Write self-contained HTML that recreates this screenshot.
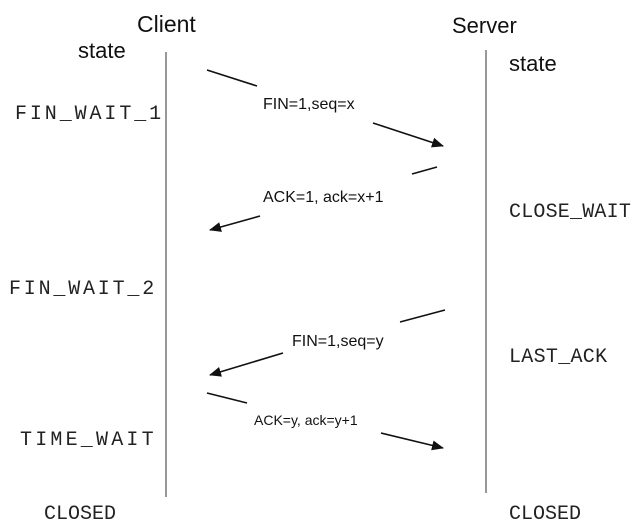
<!DOCTYPE html>
<html><head><meta charset="utf-8"><style>
html,body{margin:0;padding:0;background:#fff;}
svg{display:block;}
.s{font-family:"Liberation Sans",sans-serif;fill:#111;}
.m{font-family:"Liberation Mono",monospace;fill:#222;font-size:20px;}
</style></head><body>
<svg width="640" height="532" viewBox="0 0 640 532" xmlns="http://www.w3.org/2000/svg">
<defs><marker id="a" markerWidth="12" markerHeight="10" refX="11" refY="5" orient="auto" markerUnits="userSpaceOnUse"><path d="M0,0 L12,5 L0,10 Z" fill="#111"/></marker></defs>
<text class="s" x="137" y="32" font-size="23">Client</text>
<text class="s" x="452" y="33" font-size="22">Server</text>
<text class="s" x="78" y="58" font-size="22">state</text>
<text class="s" x="509" y="71" font-size="22">state</text>
<line x1="166" y1="52" x2="166" y2="497" stroke="#777" stroke-width="1.5"/>
<line x1="486" y1="50" x2="486" y2="493" stroke="#777" stroke-width="1.5"/>
<text class="m" x="15" y="119" letter-spacing="2.9">FIN_WAIT_1</text>
<text class="m" x="509" y="217" letter-spacing="0.2">CLOSE_WAIT</text>
<text class="m" x="9" y="294" letter-spacing="2.8">FIN_WAIT_2</text>
<text class="m" x="509" y="362" letter-spacing="0.3">LAST_ACK</text>
<text class="m" x="20" y="445" letter-spacing="3.2">TIME_WAIT</text>
<text class="m" x="44" y="519">CLOSED</text>
<text class="m" x="509" y="519">CLOSED</text>
<g stroke="#111" stroke-width="1.6" fill="none">
<line x1="207" y1="70" x2="257" y2="86"/>
<line x1="373" y1="123" x2="443" y2="146" marker-end="url(#a)"/>
<line x1="412" y1="174" x2="437" y2="167"/>
<line x1="260" y1="216" x2="210" y2="230" marker-end="url(#a)"/>
<line x1="400" y1="322" x2="445" y2="310"/>
<line x1="283" y1="353" x2="210" y2="375" marker-end="url(#a)"/>
<line x1="207" y1="393" x2="247" y2="403"/>
<line x1="381" y1="433" x2="443" y2="448" marker-end="url(#a)"/>
</g>
<text class="s" x="263" y="109" font-size="16">FIN=1,seq=x</text>
<text class="s" x="263" y="202" font-size="16">ACK=1,  ack=x+1</text>
<text class="s" x="292" y="346" font-size="16">FIN=1,seq=y</text>
<text class="s" x="254" y="425" font-size="14">ACK=y,  ack=y+1</text>
</svg>
</body></html>
